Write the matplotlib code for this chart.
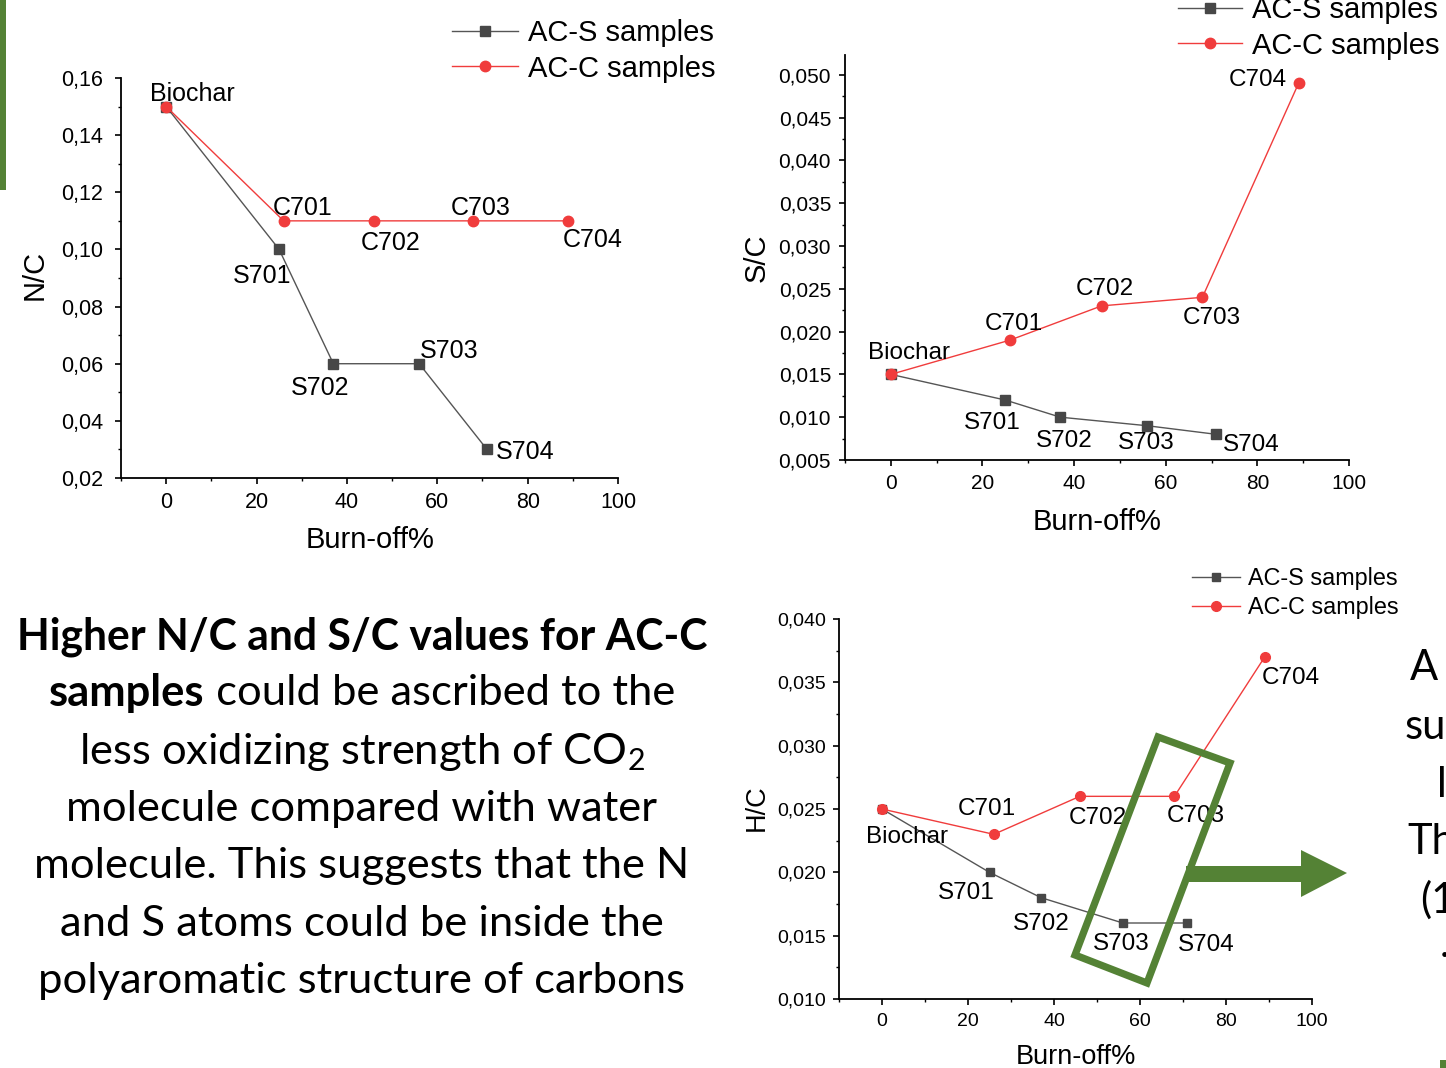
import matplotlib
matplotlib.use('Agg')
import matplotlib.pyplot as plt
import matplotlib.ticker as mticker
from matplotlib.patches import Polygon, Rectangle

plt.rcParams['font.family'] = ['Liberation Sans', 'DejaVu Sans']
plt.rcParams['mathtext.fontset'] = 'custom'
plt.rcParams['mathtext.rm'] = 'Lato'

W, H = 1446, 1068

# data
burnoff_s = [0, 25, 37, 56, 71]
burnoff_c = [0, 26, 46, 68, 89]
names_s = ['Biochar', 'S701', 'S702', 'S703', 'S704']
names_c = ['Biochar', 'C701', 'C702', 'C703', 'C704']
nc_s = [0.15, 0.10, 0.06, 0.06, 0.03]
nc_c = [0.15, 0.11, 0.11, 0.11, 0.11]
sc_s = [0.015, 0.012, 0.010, 0.009, 0.008]
sc_c = [0.015, 0.019, 0.023, 0.024, 0.049]
hc_s = [0.025, 0.020, 0.018, 0.016, 0.016]
hc_c = [0.025, 0.023, 0.026, 0.026, 0.037]

GREEN = '#548235'
RED = '#f03c3c'
GREY_LINE = '#555555'
GREY_MK = '#474747'

fig = plt.figure(figsize=(W / 100, H / 100), dpi=100)


def px_rect(l, t, r, b):
    return [l / W, 1 - b / H, (r - l) / W, (b - t) / H]


def fxy(x, y):
    return (x / W, 1 - y / H)


def make_panel(rect, ys, yc, ylim, ystep, ndec, ylabel, offs_s, offs_c,
               tick_fs, ann_fs, lab_fs, leg_fs, leg_pos, leg_hl, ms,
               ylab_xy, xlab_xy, ypad):
    ax = fig.add_axes(px_rect(*rect))
    ax.plot(burnoff_s, ys, color=GREY_LINE, lw=1, marker='s', ms=ms,
            mfc=GREY_MK, mec=GREY_MK, label='AC-S samples', zorder=3)
    ax.plot(burnoff_c, yc, color=RED, lw=1, marker='o', ms=ms + 1,
            mfc=RED, mec=RED, label='AC-C samples', zorder=4)
    ax.set_xlim(-10, 100)
    ax.set_ylim(*ylim)
    ax.xaxis.set_major_locator(mticker.MultipleLocator(20))
    ax.xaxis.set_minor_locator(mticker.MultipleLocator(10))
    ax.yaxis.set_major_locator(mticker.MultipleLocator(ystep))
    ax.yaxis.set_minor_locator(mticker.MultipleLocator(ystep / 2))
    ax.yaxis.set_major_formatter(mticker.FuncFormatter(
        lambda v, p: f'{v:.{ndec}f}'.replace('.', ',')))
    for s in ['top', 'right']:
        ax.spines[s].set_visible(False)
    for s in ['left', 'bottom']:
        ax.spines[s].set_linewidth(1.3)
    ax.tick_params(which='major', direction='out', length=4, width=1.2,
                   labelsize=tick_fs)
    ax.tick_params(which='minor', direction='out', length=2.5, width=1.0)
    ax.tick_params(axis='x', which='major', pad=6)
    ax.tick_params(axis='y', which='major', pad=ypad)

    # point labels
    for x, y, name, off in zip(burnoff_s, ys, names_s, offs_s):
        if off is None:
            continue
        ax.annotate(name, (x, y), xytext=off, textcoords='offset pixels',
                    ha='center', va='center', fontsize=ann_fs, zorder=6)
    for x, y, name, off in zip(burnoff_c, yc, names_c, offs_c):
        if off is None:
            continue
        ax.annotate(name, (x, y), xytext=off, textcoords='offset pixels',
                    ha='center', va='center', fontsize=ann_fs, zorder=6)

    ax.set_ylabel(ylabel, fontsize=lab_fs)
    ax.yaxis.set_label_coords(*ylab_xy)
    ax.yaxis.label.set_verticalalignment('center')
    ax.set_xlabel('Burn-off%', fontsize=lab_fs)
    ax.xaxis.set_label_coords(*xlab_xy)
    ax.xaxis.label.set_verticalalignment('center')

    ax.legend(loc='center left', bbox_to_anchor=fxy(*leg_pos),
              bbox_transform=fig.transFigure, frameon=False,
              fontsize=leg_fs, handlelength=leg_hl, handletextpad=0.35,
              borderpad=0, borderaxespad=0, labelspacing=0.25)
    return ax


# N/C panel
make_panel((121, 78, 618, 478), nc_s, nc_c, (0.02, 0.16), 0.02, 2, 'N/C',
           [None, (-17, -27), (-13, -24), (30, 13), (38, -3)],
           [(26, 13), (19, 13), (17, -22), (7, 13), (24, -19)],
           15.5, 18, 21, 21, (452, 51), 2.25, 6.5,
           (-0.173, 0.507), (0.501, -0.155), 9)

# S/C panel
make_panel((845, 55, 1349, 460), sc_s, sc_c, (0.005, 0.0523), 0.005, 3, 'S/C',
           [None, (-13, -23), (4, -24), (-1, -17), (35, -11)],
           [(18, 21), (4, 16), (3, 17), (9, -21), (-41, 3)],
           15, 17.5, 21, 21, (1178, 28), 2.2, 6.5,
           (-0.175, 0.499), (0.5, -0.153), 6)

# H/C panel
make_panel((839, 619, 1312, 999), hc_s, hc_c, (0.010, 0.040), 0.005, 3, 'H/C',
           [None, (-23, -21), (0, -26), (-2, -21), (19, -22)],
           [(25, -28), (-7, 25), (18, -22), (21, -20), (26, -21)],
           14, 17.5, 19.5, 16.8, (1192, 593), 2.05, 6,
           (-0.173, 0.503), (0.501, -0.153), 5.5)

# green highlight box and arrow on the H/C panel
box = [(1158, 737), (1230, 763), (1147, 983), (1075, 955)]
fig.patches.append(Polygon([fxy(*p) for p in box], closed=True, fill=False,
                           edgecolor=GREEN, lw=5.2, transform=fig.transFigure,
                           zorder=10, joinstyle='miter'))
arrow = [(1186, 866), (1301, 866), (1301, 850), (1347, 873), (1301, 897),
         (1301, 882), (1186, 882)]
fig.patches.append(Polygon([fxy(*p) for p in arrow], closed=True,
                           facecolor=GREEN, edgecolor='none',
                           transform=fig.transFigure, zorder=10))

# slide decorations
fig.patches.append(Rectangle(fxy(0, 190), 6 / W, 190 / H, facecolor=GREEN,
                             edgecolor='none', transform=fig.transFigure))
fig.patches.append(Rectangle(fxy(1440, 1068), 6 / W, 8 / H, facecolor=GREEN,
                             edgecolor='none', transform=fig.transFigure))

# text block
TFS = 31.3
TFAM = ['Lato', 'DejaVu Sans']
cx = 362 / W
fig.text(cx, fxy(0, 637)[1], 'Higher N/C and S/C values for AC-C', ha='center',
         va='center', fontsize=TFS - 0.6, fontweight='bold', family=TFAM)

renderer = fig.canvas.get_renderer()
y2 = fxy(0, 693)[1]
t_a = fig.text(0, y2, 'samples', ha='left', va='center', fontsize=TFS,
               fontweight='bold', family=TFAM)
t_b = fig.text(0, y2, ' could be ascribed to the', ha='left', va='center',
               fontsize=TFS, family=TFAM)
wa = t_a.get_window_extent(renderer).width / W
wb = t_b.get_window_extent(renderer).width / W
t_a.set_x(cx - (wa + wb) / 2)
t_b.set_x(cx - (wa + wb) / 2 + wa)

body = ['less oxidizing strength of CO$_2$',
        'molecule compared with water',
        'molecule. This suggests that the N',
        'and S atoms could be inside the',
        'polyaromatic structure of carbons']
body_y = [752, 809, 866, 924, 981]
for line, yy in zip(body, body_y):
    fig.text(cx, fxy(0, yy)[1], line, ha='center', va='center', fontsize=TFS,
             family=TFAM)

# text cut off at the right edge of the slide
edge_text = ['A', 'su', 'l', 'Th', '(1', '.']
edge_x = [1410, 1405, 1437, 1407, 1420, 1440]
edge_y = [668, 727, 785, 842, 900, 945]
for s, xx, yy in zip(edge_text, edge_x, edge_y):
    fig.text(*fxy(xx, yy), s, ha='left', va='center', fontsize=30,
             family=TFAM)

fig.savefig('out.png', dpi=100)
